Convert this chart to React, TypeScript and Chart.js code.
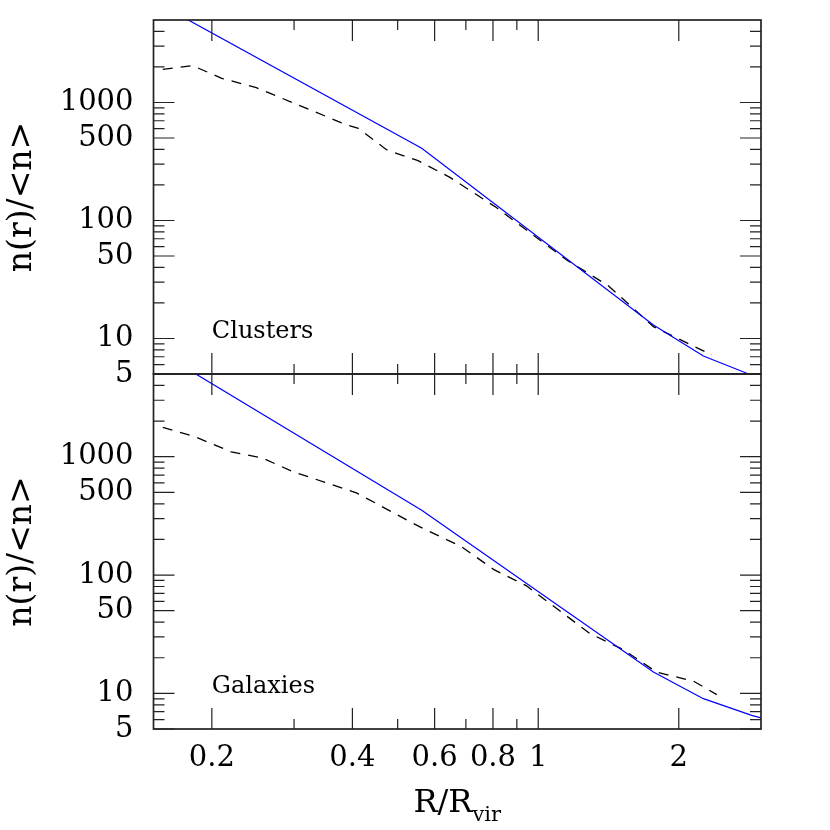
import React, { useEffect, useRef } from 'react';
import { Chart, registerables } from 'chart.js';

Chart.register(...registerables);

const FONT = '"DejaVu Serif", serif';

// Axis ranges and ticks
const X_MIN = 0.15;
const X_MAX = 3.0;
const Y_MIN = 5;
const Y_MAX = 5000;
const X_TICK_LABELS = [0.2, 0.4, 0.6, 0.8, 1, 2];
const X_MINOR_TICKS = [0.3, 0.5, 0.7, 0.9];
const Y_TICK_LABELS = [5, 10, 50, 100, 500, 1000];
const Y_MINOR_TICKS = [6, 7, 8, 9, 20, 30, 40, 60, 70, 80, 90, 200, 300, 400, 600, 700, 800, 900, 2000, 3000, 4000];

// Panel labels
const PANEL_LABELS = ['Clusters', 'Galaxies'];
const LABEL_R = 0.2;
const LABEL_N = 10;

// Clusters panel
const clusterModelR = [0.15, 0.563, 1.765, 2.258, 2.797, 3.0];
const clusterModelN = [7260, 409, 13.0, 7.1, 5.07, 4.6];
const clusterDataR = [0.157, 0.182, 0.21, 0.249, 0.389, 0.412, 0.474, 0.553, 0.647, 0.815, 1.151, 1.413, 1.765, 2.354];
const clusterDataN = [1911, 2050, 1603, 1335, 645, 604, 396, 321, 232, 128, 46.2, 28.0, 12.6, 7.24];

// Galaxies panel
const galaxyModelR = [0.15, 0.563, 1.765, 2.258, 2.866, 3.0];
const galaxyModelN = [8217, 353, 15.15, 9.02, 6.52, 6.21];
const galaxyDataR = [0.157, 0.184, 0.22, 0.256, 0.299, 0.408, 0.558, 0.686, 0.804, 0.942, 1.291, 1.522, 1.794, 2.15, 2.412];
const galaxyDataN = [1771, 1474, 1101, 979, 745, 495, 255, 173, 111, 81.5, 32.0, 23.4, 15.1, 12.7, 9.76];

const zip = (xs: number[], ys: number[]) => xs.map((x, i) => ({ x, y: ys[i] }));

const BOTTOM_CANVAS_TOP = 350;

function makeDeco(label: string, withXTitle: boolean) {
  return {
    id: 'deco',
    afterDatasetsDraw(chart: any) {
      const { ctx, chartArea: a } = chart;
      const xs = chart.scales.x;
      const ys = chart.scales.y;
      ctx.save();
      ctx.strokeStyle = '#222';
      ctx.lineWidth = 1.2;
      ctx.beginPath();
      const tickX = (vals: number[], len: number) =>
        vals.forEach((v) => {
          const p = xs.getPixelForValue(v);
          ctx.moveTo(p, a.top);
          ctx.lineTo(p, a.top + len);
          ctx.moveTo(p, a.bottom);
          ctx.lineTo(p, a.bottom - len);
        });
      const tickY = (vals: number[], len: number) =>
        vals.forEach((v) => {
          const p = ys.getPixelForValue(v);
          ctx.moveTo(a.left, p);
          ctx.lineTo(a.left + len, p);
          ctx.moveTo(a.right, p);
          ctx.lineTo(a.right - len, p);
        });
      tickX(X_TICK_LABELS, 21);
      tickX(X_MINOR_TICKS, 10);
      tickY(Y_TICK_LABELS, 21);
      tickY(Y_MINOR_TICKS, 11);
      ctx.stroke();
      ctx.lineWidth = 1.7;
      ctx.strokeRect(a.left, a.top, a.right - a.left, a.bottom - a.top);

      ctx.fillStyle = '#000';
      ctx.font = `24px ${FONT}`;
      ctx.textAlign = 'left';
      ctx.textBaseline = 'alphabetic';
      ctx.fillText(label, xs.getPixelForValue(LABEL_R), ys.getPixelForValue(LABEL_N));

      if (withXTitle) {
        const cx = (a.left + a.right) / 2;
        const main = 'R/R';
        const sub = 'vir';
        ctx.font = `32px ${FONT}`;
        const w1 = ctx.measureText(main).width;
        ctx.font = `21px ${FONT}`;
        const w2 = ctx.measureText(sub).width;
        const x0 = cx - (w1 + w2) / 2;
        ctx.font = `32px ${FONT}`;
        ctx.fillText(main, x0, 812 - BOTTOM_CANVAS_TOP);
        ctx.font = `21px ${FONT}`;
        ctx.fillText(sub, x0 + w1, 821 - BOTTOM_CANVAS_TOP);
      }
      ctx.restore();
    },
  };
}

function yScale() {
  return {
    type: 'logarithmic',
    min: Y_MIN,
    max: Y_MAX,
    position: 'left',
    afterFit: (s: any) => {
      s.width = 153.5;
      s.paddingTop = 0;
      s.paddingBottom = 0;
    },
    afterBuildTicks: (s: any) => {
      s.ticks = Y_TICK_LABELS.map((v) => ({ value: v }));
    },
    ticks: {
      autoSkip: false,
      padding: 20,
      color: '#000',
      font: { family: FONT, size: 29 },
      callback: (v: any) => String(v),
    },
    grid: { display: false, drawTicks: false },
    border: { display: false },
    title: {
      display: true,
      text: 'n(r)/<n>',
      color: '#000',
      font: { family: FONT, size: 33 },
      padding: { top: 3, bottom: 0 },
    },
  };
}

function datasets(mr: number[], mn: number[], dr: number[], dn: number[]) {
  return [
    {
      data: zip(mr, mn),
      borderColor: '#0000ff',
      borderWidth: 1.2,
      pointRadius: 0,
      fill: false,
      tension: 0,
    },
    {
      data: zip(dr, dn),
      borderColor: '#000000',
      borderWidth: 1.3,
      borderDash: [10, 8],
      pointRadius: 0,
      fill: false,
      tension: 0,
    },
  ];
}

export default function App() {
  const topRef = useRef<HTMLCanvasElement>(null);
  const botRef = useRef<HTMLCanvasElement>(null);

  useEffect(() => {
    document.body.style.margin = '0';
    const common = {
      animation: false,
      responsive: false,
      maintainAspectRatio: false,
      devicePixelRatio: 1,
      plugins: { legend: { display: false }, tooltip: { enabled: false } },
    };
    const top = new Chart(topRef.current as HTMLCanvasElement, {
      type: 'line',
      data: { datasets: datasets(clusterModelR, clusterModelN, clusterDataR, clusterDataN) as any },
      options: {
        ...common,
        layout: { padding: { top: 20, right: 69, bottom: 26, left: 0 } },
        scales: {
          x: { type: 'logarithmic', min: X_MIN, max: X_MAX, display: false },
          y: yScale() as any,
        },
      } as any,
      plugins: [makeDeco(PANEL_LABELS[0], false)],
    });
    const bot = new Chart(botRef.current as HTMLCanvasElement, {
      type: 'line',
      data: { datasets: datasets(galaxyModelR, galaxyModelN, galaxyDataR, galaxyDataN) as any },
      options: {
        ...common,
        layout: { padding: { top: 374 - BOTTOM_CANVAS_TOP, right: 69, bottom: 0, left: 0 } },
        scales: {
          x: {
            type: 'logarithmic',
            min: X_MIN,
            max: X_MAX,
            position: 'bottom',
            afterFit: (s: any) => {
              s.height = 480 - (729 - BOTTOM_CANVAS_TOP);
              s.paddingLeft = 0;
              s.paddingRight = 0;
            },
            afterBuildTicks: (s: any) => {
              s.ticks = X_TICK_LABELS.map((v) => ({ value: v }));
            },
            ticks: {
              autoSkip: false,
              maxRotation: 0,
              minRotation: 0,
              padding: 12,
              color: '#000',
              font: { family: FONT, size: 29 },
              callback: (v: any) => String(v),
            },
            grid: { display: false, drawTicks: false },
            border: { display: false },
          },
          y: yScale() as any,
        },
      } as any,
      plugins: [makeDeco(PANEL_LABELS[1], true)],
    });
    return () => {
      top.destroy();
      bot.destroy();
    };
  }, []);

  return (
    <div style={{ position: 'fixed', left: 0, top: 0, width: 830, height: 830, background: '#fff' }}>
      <canvas ref={topRef} width={830} height={400} style={{ position: 'absolute', left: 0, top: 0 }} />
      <canvas ref={botRef} width={830} height={480} style={{ position: 'absolute', left: 0, top: BOTTOM_CANVAS_TOP }} />
    </div>
  );
}
